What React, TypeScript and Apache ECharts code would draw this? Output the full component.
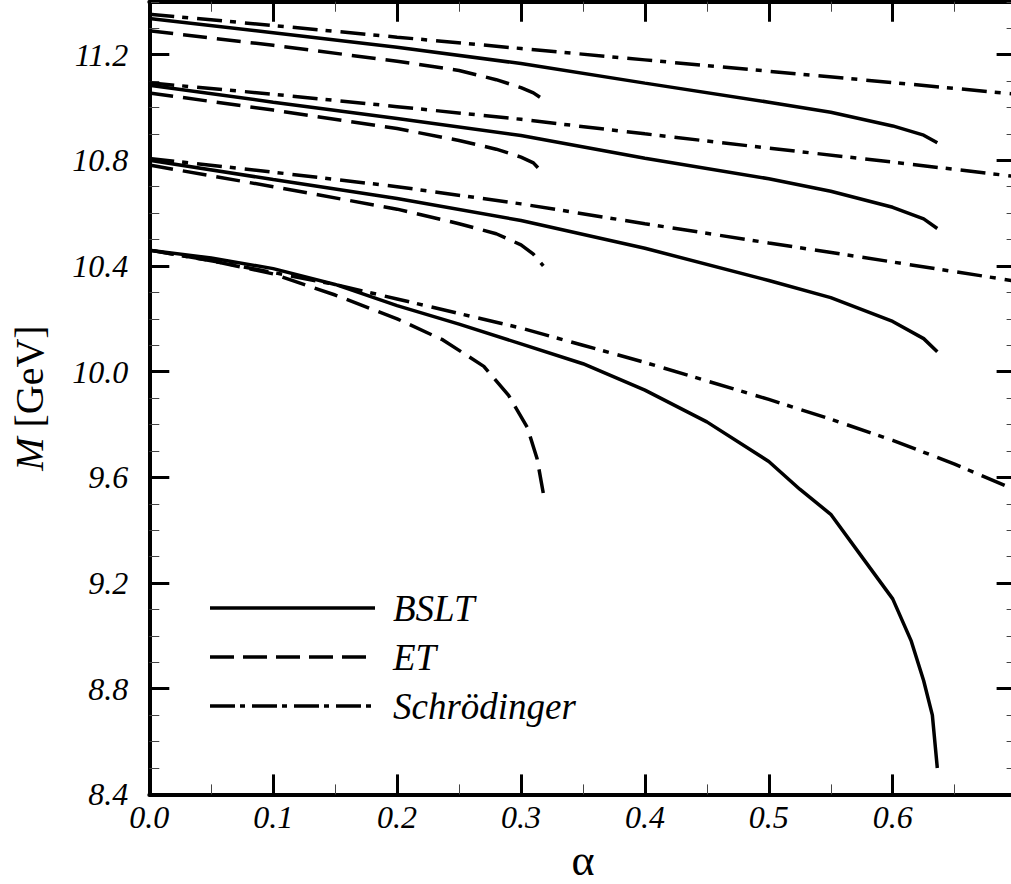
import React, { useEffect, useRef } from "react";
import * as echarts from "echarts";

// [alpha, M (GeV)] pairs
const bslt1 = [[0, 10.46], [0.05, 10.43], [0.1, 10.39], [0.15, 10.33], [0.2, 10.25], [0.25, 10.18], [0.3, 10.105], [0.35, 10.03], [0.4, 9.93], [0.45, 9.81], [0.5, 9.66], [0.525, 9.555], [0.55, 9.46], [0.575, 9.3], [0.6, 9.14], [0.615, 8.98], [0.625, 8.83], [0.632, 8.7], [0.636, 8.5]];
const et1 = [[0, 10.46], [0.05, 10.42], [0.1, 10.37], [0.15, 10.29], [0.2, 10.2], [0.237, 10.12], [0.27, 10.02], [0.29, 9.91], [0.305, 9.79], [0.313, 9.67], [0.318, 9.54]];
const sch1 = [[0, 10.46], [0.05, 10.42], [0.1, 10.375], [0.15, 10.33], [0.2, 10.275], [0.25, 10.22], [0.3, 10.165], [0.35, 10.1], [0.4, 10.035], [0.45, 9.965], [0.5, 9.895], [0.55, 9.82], [0.6, 9.74], [0.65, 9.65], [0.7, 9.55]];

const bslt2 = [[0, 10.8], [0.1, 10.727], [0.2, 10.655], [0.3, 10.572], [0.4, 10.467], [0.5, 10.345], [0.55, 10.28], [0.6, 10.19], [0.625, 10.125], [0.636, 10.075]];
const et2 = [[0, 10.782], [0.1, 10.7], [0.2, 10.615], [0.25, 10.56], [0.28, 10.522], [0.3, 10.48], [0.31, 10.445], [0.318, 10.4]];
const sch2 = [[0, 10.807], [0.1, 10.755], [0.2, 10.7], [0.3, 10.635], [0.4, 10.56], [0.5, 10.487], [0.6, 10.415], [0.7, 10.342]];

const bslt3 = [[0, 11.084], [0.1, 11.02], [0.2, 10.958], [0.3, 10.894], [0.4, 10.808], [0.5, 10.73], [0.55, 10.683], [0.6, 10.622], [0.625, 10.578], [0.636, 10.542]];
const et3 = [[0, 11.055], [0.1, 10.99], [0.2, 10.92], [0.25, 10.875], [0.28, 10.842], [0.3, 10.812], [0.31, 10.79], [0.318, 10.75]];
const sch3 = [[0, 11.093], [0.1, 11.05], [0.2, 11.003], [0.3, 10.955], [0.4, 10.9], [0.5, 10.846], [0.6, 10.793], [0.7, 10.738]];

const bslt4 = [[0, 11.337], [0.1, 11.283], [0.2, 11.228], [0.3, 11.166], [0.4, 11.092], [0.5, 11.02], [0.55, 10.982], [0.6, 10.93], [0.625, 10.895], [0.636, 10.866]];
const et4 = [[0, 11.29], [0.1, 11.235], [0.2, 11.175], [0.25, 11.14], [0.28, 11.105], [0.3, 11.075], [0.31, 11.055], [0.318, 11.03]];
const sch4 = [[0, 11.353], [0.1, 11.31], [0.2, 11.266], [0.3, 11.223], [0.4, 11.18], [0.5, 11.137], [0.6, 11.094], [0.7, 11.05]];

const seriesNames = ["BSLT", "ET", "Schrödinger"];
const xRange = [0, 0.7];
const yRange = [8.4, 11.4];

const FONT = "Liberation Serif";
const DASH_ET = [24, 10];
const DASH_SCH = [25, 8, 6, 9];
const LEGEND_DASH = [null, [24, 9], [25, 5, 5, 7]];

function makeAxis(pos: string, min: number, max: number, interval: number, minorSplit: number, showLabels: boolean, labelMargin: number) {
  return {
    type: "value",
    position: pos,
    min,
    max,
    interval,
    axisLine: { show: true, onZero: false, lineStyle: { color: "#000", width: 4 } },
    axisTick: { show: true, inside: true, length: 20, lineStyle: { color: "#000", width: 3 } },
    minorTick: { show: true, splitNumber: minorSplit, length: 10, lineStyle: { color: "#444", width: 1 } },
    splitLine: { show: false },
    minorSplitLine: { show: false },
    axisLabel: {
      show: showLabels,
      showMaxLabel: false,
      margin: labelMargin,
      formatter: (v: number) => v.toFixed(1),
      fontFamily: FONT,
      fontStyle: "italic",
      fontSize: 32,
      color: "#000",
    },
  };
}

export default function App() {
  const ref = useRef<HTMLDivElement>(null);
  useEffect(() => {
    if (!ref.current) return;
    const chart = echarts.init(ref.current, null, { renderer: "svg" });
    const mk = (name: string, data: number[][], dash: any) => ({
      type: "line",
      name,
      data,
      symbol: "none",
      showSymbol: false,
      silent: true,
      xAxisIndex: 0,
      yAxisIndex: 0,
      lineStyle: { color: "#000", width: 3.5, type: dash, cap: "butt" },
      itemStyle: { color: "#000" },
    });
    const xBottom: any = makeAxis("bottom", xRange[0], xRange[1], 0.1, 2, true, 7);
    xBottom.name = "α";
    xBottom.nameLocation = "middle";
    xBottom.nameGap = 42;
    xBottom.nameTextStyle = { fontFamily: FONT, fontSize: 44, lineHeight: 38, color: "#000" };
    const xTop: any = makeAxis("top", xRange[0], xRange[1], 0.1, 2, false, 8);
    const yLeft: any = makeAxis("left", yRange[0], yRange[1], 0.4, 4, true, 21);
    yLeft.name = "{i|M} [GeV]";
    yLeft.nameLocation = "middle";
    yLeft.nameGap = 100;
    yLeft.nameTextStyle = {
      fontFamily: FONT,
      fontSize: 40,
      color: "#000",
      rich: { i: { fontFamily: FONT, fontStyle: "italic", fontSize: 40, color: "#000" } },
    };
    const yRight: any = makeAxis("right", yRange[0], yRange[1], 0.4, 4, false, 8);

    const legendRows = [608, 657, 706];
    const graphic: any[] = [];
    seriesNames.forEach((nm, i) => {
      graphic.push({
        type: "line",
        shape: { x1: 210, y1: legendRows[i], x2: 375, y2: legendRows[i] },
        style: { stroke: "#000", lineWidth: 3.5, lineDash: LEGEND_DASH[i] || null, lineCap: "butt" },
        silent: true,
      });
      graphic.push({
        type: "text",
        x: 393,
        y: legendRows[i],
        style: {
          text: nm,
          fontFamily: FONT,
          fontStyle: "italic",
          fontSize: 37,
          fill: "#000",
          verticalAlign: "middle",
          align: "left",
        },
        silent: true,
      });
    });

    chart.setOption({
      animation: false,
      backgroundColor: "#fff",
      grid: { left: 149.3, right: -5.6, top: 1.75, bottom: 89.6, containLabel: false, outerBoundsMode: "none" },
      xAxis: [xBottom, xTop],
      yAxis: [yLeft, yRight],
      graphic,
      series: [
        mk("BSLT", bslt1, "solid"),
        mk("ET", et1, DASH_ET),
        mk("Schrödinger", sch1, DASH_SCH),
        mk("BSLT", bslt2, "solid"),
        mk("ET", et2, DASH_ET),
        mk("Schrödinger", sch2, DASH_SCH),
        mk("BSLT", bslt3, "solid"),
        mk("ET", et3, DASH_ET),
        mk("Schrödinger", sch3, DASH_SCH),
        mk("BSLT", bslt4, "solid"),
        mk("ET", et4, DASH_ET),
        mk("Schrödinger", sch4, DASH_SCH),
      ],
    });
    return () => chart.dispose();
  }, []);
  return (
    <div
      ref={ref}
      style={{ position: "absolute", left: 0, top: 0, width: 1011, height: 884, background: "#fff" }}
    />
  );
}
